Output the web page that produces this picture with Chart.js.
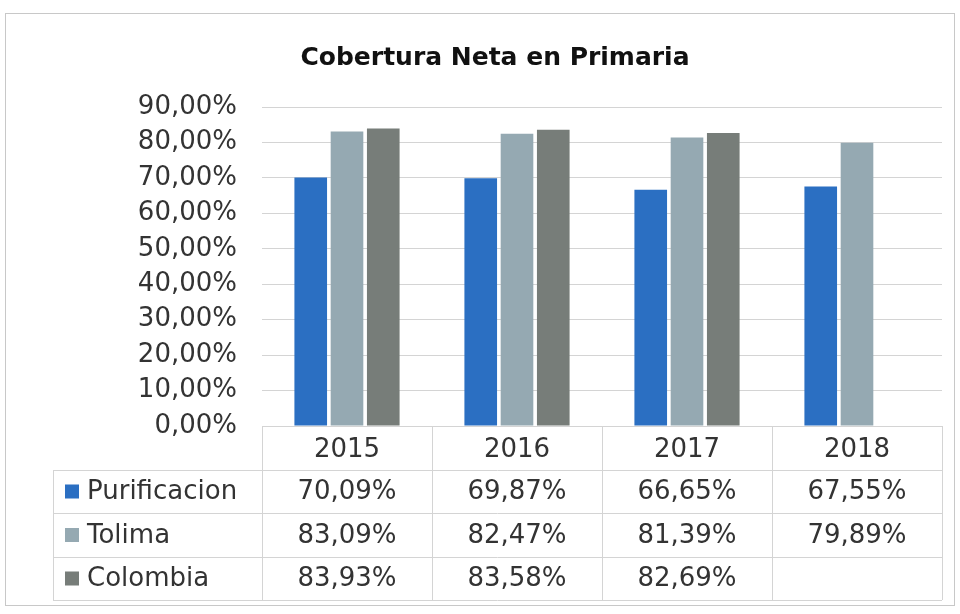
<!DOCTYPE html>
<html>
<head>
<meta charset="utf-8">
<script src="https://cdn.jsdelivr.net/npm/chart.js@4/dist/chart.umd.min.js"></script>
<style>
  html, body { margin: 0; padding: 0; background: #fff; }
  #wrap { width: 960px; height: 614px; }
</style>
</head>
<body>
<div id="wrap"><canvas id="cobertura-chart" width="960" height="614"></canvas></div>
<script>
const ctx = document.getElementById("cobertura-chart");

var years = ["2015", "2016", "2017", "2018"];
var purificacion = [70.09, 69.87, 66.65, 67.55];
var tolima = [83.09, 82.47, 81.39, 79.89];
var colombia = [83.93, 83.58, 82.69, null];
var yTicks = [0, 10, 20, 30, 40, 50, 60, 70, 80, 90];

var textFont = "'DejaVu Sans', sans-serif";
var textColor = "#333333";
var lineColor = "#d4d4d4";

function pct(v) {
  return v.toFixed(2).replace(".", ",") + "%";
}

// data table under the plot, columns follow the x scale
const dataTable = {
  id: "dataTable",
  beforeDraw(chart) {
    const c = chart.ctx;
    c.save();
    c.strokeStyle = "#c8c8c8";
    c.lineWidth = 1;
    c.strokeRect(5.5, 13.5, 949, 592);
    c.restore();
  },
  afterDraw(chart) {
    const c = chart.ctx;
    const area = chart.chartArea;
    const x = chart.scales.x;
    const colW = area.width / years.length;
    const top = area.bottom;
    const rowTops = [top, 470, 513, 557, 600];
    const legendLeft = 53;

    c.save();
    c.strokeStyle = lineColor;
    c.lineWidth = 1;
    c.beginPath();
    // horizontal lines
    c.moveTo(area.left, top + 0.5);
    c.lineTo(area.right, top + 0.5);
    for (let i = 1; i < rowTops.length; i++) {
      c.moveTo(legendLeft, rowTops[i] + 0.5);
      c.lineTo(area.right, rowTops[i] + 0.5);
    }
    // vertical lines
    c.moveTo(legendLeft + 0.5, rowTops[1]);
    c.lineTo(legendLeft + 0.5, rowTops[4]);
    for (let i = 0; i <= years.length; i++) {
      const xx = Math.round(area.left + i * colW) + 0.5;
      c.moveTo(xx, top);
      c.lineTo(xx, rowTops[4]);
    }
    c.stroke();

    c.font = "26px " + textFont;
    c.fillStyle = textColor;
    c.textBaseline = "middle";
    c.textAlign = "center";
    years.forEach((yr, i) => {
      c.fillText(yr, x.getPixelForValue(i), (rowTops[0] + rowTops[1]) / 2 + 2);
    });

    chart.data.datasets.forEach((ds, r) => {
      const mid = (rowTops[r + 1] + rowTops[r + 2]) / 2;
      c.fillStyle = ds.backgroundColor;
      c.fillRect(65, mid - 7, 14, 14);
      c.fillStyle = textColor;
      c.textAlign = "left";
      c.fillText(ds.label, 87, mid + 1);
      c.textAlign = "center";
      ds.data.forEach((v, i) => {
        if (v === null) return;
        c.fillText(pct(v), x.getPixelForValue(i), mid + 1);
      });
    });
    c.restore();
  },
};

const myChart = new Chart(ctx, {
  type: "bar",
  data: {
    labels: years,
    datasets: [
      { label: "Purificacion", data: purificacion, backgroundColor: "#2b6fc2" },
      { label: "Tolima", data: tolima, backgroundColor: "#95a9b2" },
      { label: "Colombia", data: colombia, backgroundColor: "#777d79" },
    ],
  },
  options: {
    responsive: false,
    animation: false,
    layout: {
      padding: { top: 30, right: 18, bottom: 188, left: 48 },
    },
    datasets: {
      bar: {
        categoryPercentage: 0.64,
        barPercentage: 0.9,
      },
    },
    plugins: {
      legend: { display: false },
      tooltip: { enabled: false },
      title: {
        display: true,
        text: "Cobertura Neta en Primaria",
        color: "#111",
        font: { size: 25, weight: "bold", family: textFont },
        padding: { top: 13, bottom: 34 },
      },
    },
    scales: {
      x: {
        display: false,
      },
      y: {
        min: 0,
        max: 90,
        afterFit(scale) {
          scale.width = 214;
        },
        afterBuildTicks(scale) {
          scale.ticks = yTicks.map((v) => ({ value: v }));
        },
        border: { display: false },
        grid: { color: lineColor, drawTicks: false },
        ticks: {
          padding: 25,
          color: textColor,
          font: { size: 26, family: textFont },
          callback: (v) => pct(v),
        },
      },
    },
  },
  plugins: [dataTable],
});
</script>
</body>
</html>
